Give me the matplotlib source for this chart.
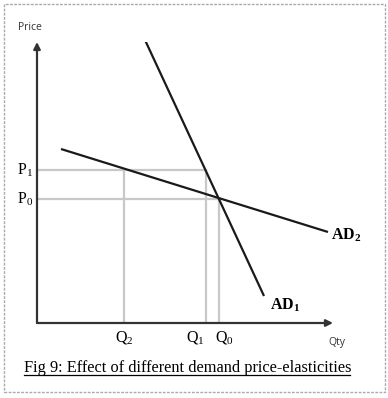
import matplotlib
matplotlib.use('Agg')
import matplotlib.pyplot as plt
from matplotlib.patches import Rectangle
from matplotlib.lines import Line2D

plt.rcParams['mathtext.fontset'] = 'custom'
plt.rcParams['mathtext.rm'] = 'Liberation Serif'
plt.rcParams['mathtext.bf'] = 'Liberation Serif:bold'

# demand curves (quantity, price) end points
ad1_q = [108, 227]
ad1_p = [283, 27]
ad2_q = [24, 291]
ad2_p = [174, 91]

# price / quantity levels
p_levels = {'P1': 153, 'P0': 124}
q_levels = {'Q2': 87, 'Q1': 169, 'Q0': 182}

W, H = 388, 398
fig = plt.figure(figsize=(W / 100, H / 100), dpi=100)
fig.patch.set_facecolor('white')

ox, oy = 37, 323
xmax, ymax = 296, 281
ax = fig.add_axes([ox / W, (H - oy) / H, xmax / W, ymax / H])
ax.set_xlim(0, xmax)
ax.set_ylim(0, ymax)
ax.axis('off')

guide = '#c8c8c8'
ink = '#1a1a1a'

# guide lines
P1, P0 = p_levels['P1'], p_levels['P0']
Q2, Q1, Q0 = q_levels['Q2'], q_levels['Q1'], q_levels['Q0']
ax.plot([0, Q1], [P1, P1], color=guide, lw=1.6)
ax.plot([0, Q0], [P0, P0], color=guide, lw=1.6)
ax.plot([Q2, Q2], [0, P1], color=guide, lw=1.6)
ax.plot([Q1, Q1], [0, P1], color=guide, lw=1.6)
ax.plot([Q0, Q0], [0, P0], color=guide, lw=1.6)

# demand curves
ax.plot(ad1_q, ad1_p, color=ink, lw=1.6, solid_capstyle='butt')
ax.plot(ad2_q, ad2_p, color=ink, lw=1.6, solid_capstyle='butt')

# axes with arrows
arrow = dict(arrowstyle='-|>', color='#333333', lw=1.6, mutation_scale=10, shrinkA=0, shrinkB=0)
ax.annotate('', xy=(xmax, 0), xytext=(0, 0), arrowprops=arrow, annotation_clip=False)
ax.annotate('', xy=(0, ymax), xytext=(0, 0), arrowprops=arrow, annotation_clip=False)

# labels
serif = 11.5
ax.text(-4, P1, r'$\mathrm{P}_\mathrm{1}$', ha='right', va='center', fontsize=serif)
ax.text(-4, P0, r'$\mathrm{P}_\mathrm{0}$', ha='right', va='center', fontsize=serif)
ax.text(Q2, -7, r'$\mathrm{Q}_\mathrm{2}$', ha='center', va='top', fontsize=serif)
ax.text(Q1 - 1, -7, r'$\mathrm{Q}_\mathrm{1}$', ha='right', va='top', fontsize=serif)
ax.text(Q0 - 4, -7, r'$\mathrm{Q}_\mathrm{0}$', ha='left', va='top', fontsize=serif)
ax.text(233, 18, r'$\mathbf{AD}_\mathbf{1}$', ha='left', va='center', fontsize=serif)
ax.text(294, 88, r'$\mathbf{AD}_\mathbf{2}$', ha='left', va='center', fontsize=serif)
ax.text(-7, 296, 'Price', ha='center', va='center', fontsize=7.5,
        family='Open Sans', color='#333333')
ax.text(300, -20, 'Qty', ha='center', va='center', fontsize=7.5,
        family='Open Sans', color='#333333')

# caption with underline
cap = fig.text(188 / W, 1 - 368 / H, 'Fig 9: Effect of different demand price-elasticities',
               ha='center', va='center', fontsize=11.8, family='Liberation Serif')
fig.canvas.draw()
bb = cap.get_window_extent(fig.canvas.get_renderer())
uy = (bb.y0 + 1.5) / H
fig.add_artist(Line2D([bb.x0 / W, (bb.x1 - 2) / W], [uy, uy], color='black', lw=0.9))

# frame
fig.add_artist(Rectangle((4 / W, 6 / H), 381 / W, 388 / H, fill=False,
                         edgecolor='#aaaaaa', lw=1.0, linestyle=(0, (2, 1))))

fig.savefig('out.png', dpi=100)
